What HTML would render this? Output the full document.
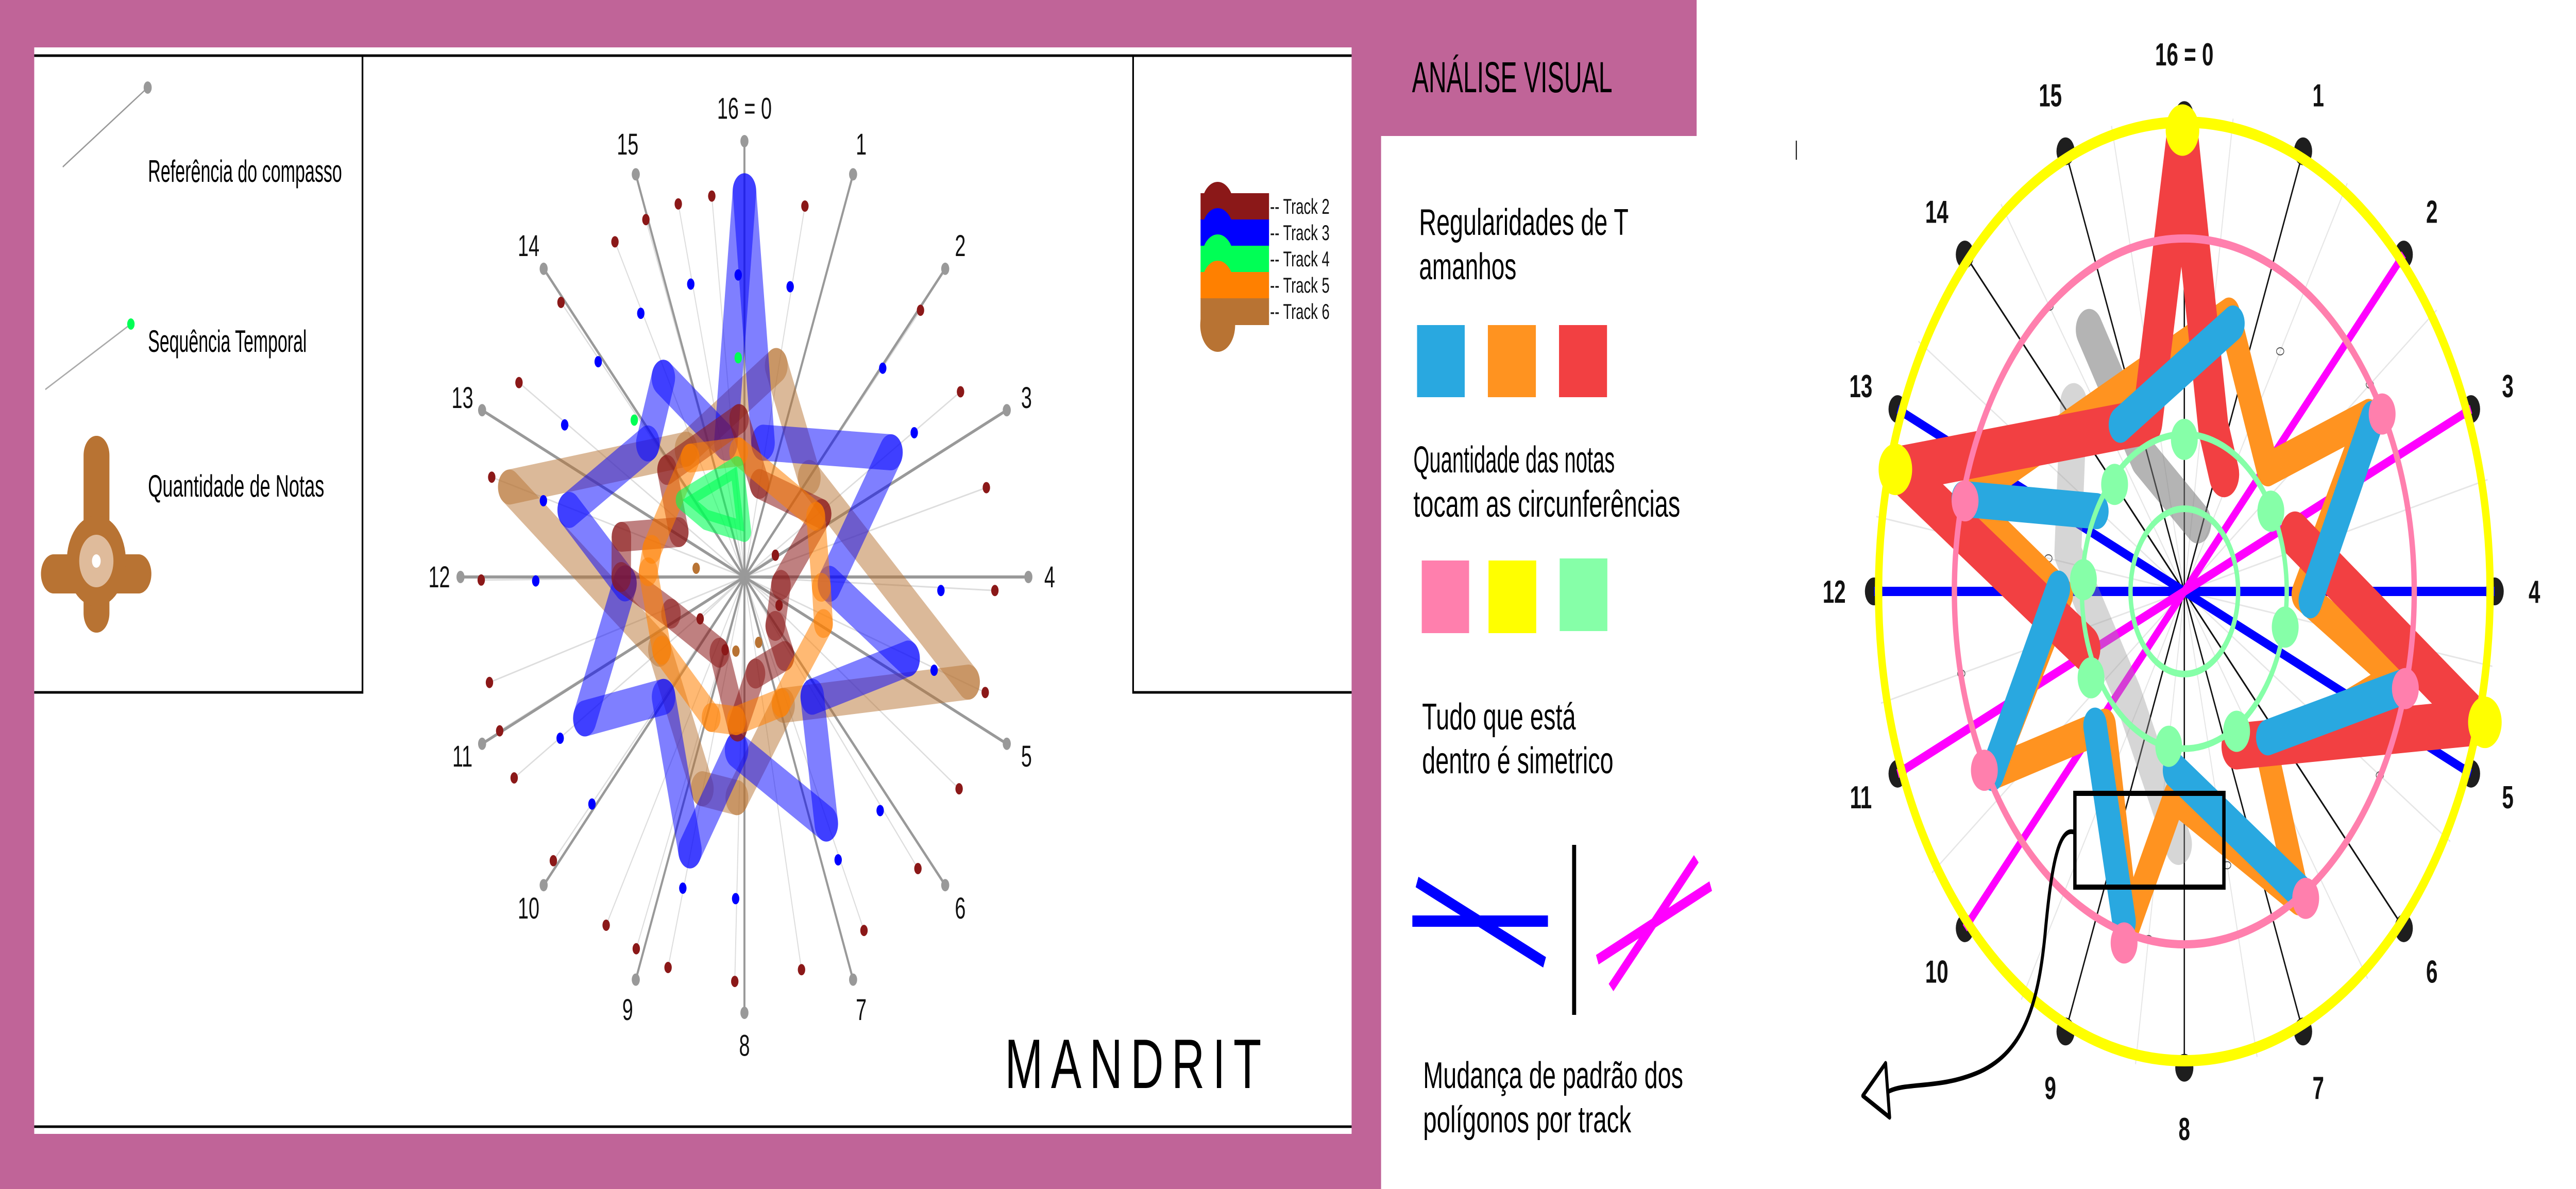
<!DOCTYPE html>
<html><head><meta charset="utf-8"><style>
html,body{margin:0;padding:0;background:#fff;overflow:hidden;width:100%;height:100%;}
svg{display:block;position:absolute;left:0;top:0;width:100vw;height:100vh;}
text{font-family:"Liberation Sans",sans-serif;}
</style></head><body>
<svg id="s" xmlns="http://www.w3.org/2000/svg" viewBox="0 0 7675 2308" preserveAspectRatio="none">
<rect x="0" y="0" width="7675" height="2308" fill="#fff"/>
<rect x="0" y="0" width="4115" height="2308" fill="#c06498"/>
<rect x="102" y="92" width="3925" height="2109" fill="#fff"/>
<rect x="4115" y="0" width="3560" height="2308" fill="#fff"/>
<rect x="4100" y="0" width="955" height="264" fill="#c06498"/>
<line x1="102" y1="108" x2="4027" y2="108" stroke="#000" stroke-width="5"/>
<line x1="102" y1="2187" x2="4027" y2="2187" stroke="#000" stroke-width="5"/>
<polyline points="102,1344 1080,1344 1080,108" fill="none" stroke="#000" stroke-width="5"/>
<polyline points="4027,1344 3376,1344 3376,108" fill="none" stroke="#000" stroke-width="5"/>

<g>
<line x1="187" y1="324" x2="440" y2="170" stroke="#999" stroke-width="3"/>
<circle cx="440" cy="170" r="12" fill="#999"/>
<text x="441" y="353" font-size="60" textLength="578" lengthAdjust="spacingAndGlyphs">Referência do compasso</text>
<line x1="135" y1="756" x2="390" y2="629" stroke="#aaa" stroke-width="3"/>
<circle cx="390" cy="629" r="11" fill="#00ff55"/>
<text x="441" y="683" font-size="60" textLength="473" lengthAdjust="spacingAndGlyphs">Sequência Temporal</text>
<rect x="249" y="846" width="77" height="382" rx="38" fill="#b87333"/>
<rect x="122" y="1076" width="329" height="76" rx="38" fill="#b87333"/>
<circle cx="287" cy="1089" r="88" fill="#b87333"/>
<ellipse cx="287" cy="1089" rx="51" ry="51" fill="#dfbb9b"/>
<circle cx="287" cy="1089" r="13" fill="#fff"/>
<text x="441" y="964" font-size="60" textLength="525" lengthAdjust="spacingAndGlyphs">Quantidade de Notas</text>
</g>

<g id="tracklegend"></g>
<g id="chart1"></g>
<text x="2994" y="2112" font-size="136" textLength="764" lengthAdjust="spacing">MANDRIT</text>

<g>
<text x="4207" y="179" font-size="84" textLength="597" lengthAdjust="spacingAndGlyphs">ANÁLISE VISUAL</text>
<text x="4228" y="456" font-size="72" textLength="624" lengthAdjust="spacingAndGlyphs">Regularidades de T</text>
<text x="4228" y="542" font-size="72" textLength="290" lengthAdjust="spacingAndGlyphs">amanhos</text>
<rect x="4222" y="631" width="142" height="140" fill="#29a8e0"/>
<rect x="4433" y="631" width="143" height="140" fill="#ff9320"/>
<rect x="4645" y="631" width="143" height="140" fill="#f24042"/>
<text x="4211" y="917" font-size="72" textLength="600" lengthAdjust="spacingAndGlyphs">Quantidade das notas</text>
<text x="4211" y="1003" font-size="72" textLength="795" lengthAdjust="spacingAndGlyphs">tocam as circunferências</text>
<rect x="4236" y="1088" width="141" height="141" fill="#ff7fad"/>
<rect x="4435" y="1088" width="142" height="141" fill="#ffff00"/>
<rect x="4647" y="1084" width="142" height="141" fill="#86ffa8"/>
<text x="4237" y="1416" font-size="72" textLength="458" lengthAdjust="spacingAndGlyphs">Tudo que está</text>
<text x="4237" y="1501" font-size="72" textLength="570" lengthAdjust="spacingAndGlyphs">dentro é simetrico</text>
<line x1="4208" y1="1788" x2="4612" y2="1788" stroke="#0000ff" stroke-width="22"/>
<line x1="4222" y1="1712" x2="4602" y2="1868" stroke="#0000ff" stroke-width="22"/>
<line x1="4690" y1="1640" x2="4690" y2="1970" stroke="#000" stroke-width="12"/>
<line x1="4759" y1="1863" x2="5097" y2="1720" stroke="#ff00ff" stroke-width="20"/>
<line x1="4800" y1="1917" x2="5054" y2="1667" stroke="#ff00ff" stroke-width="20"/>
<text x="4240" y="2112" font-size="72" textLength="775" lengthAdjust="spacingAndGlyphs">Mudança de padrão dos</text>
<text x="4240" y="2198" font-size="72" textLength="620" lengthAdjust="spacingAndGlyphs">polígonos por track</text>
<line x1="5352" y1="273" x2="5352" y2="310" stroke="#000" stroke-width="3"/>
</g>
<g id="chart2"></g>
</svg>
<script>
// ---------- Chart 1 data (polar: angle deg clockwise from top, radius fraction) ----------
var spokeLabels = ["16 = 0","1","2","3","4","5","6","7","8","9","10","11","12","13","14","15"];
var track3Ang = [0,12,61,93,108,139,153,184,197,226,240,268,284,312,328,348];
var track3Rad = [0.885,0.315,0.59,0.30,0.606,0.364,0.635,0.398,0.656,0.396,0.649,0.421,0.636,0.458,0.539,0.315];
var track6Ang = [13,45,107,155,183,197,241,284,325];
var track6Rad = [0.498,0.323,0.825,0.325,0.507,0.508,0.342,0.853,0.358];
var track5Ang = [356,61,95,111,156,185,200,240,272,281,325];
var track5Rad = [0.288,0.287,0.272,0.298,0.316,0.331,0.343,0.336,0.339,0.332,0.333];
var track2Ang = [357,14,62,98,136,142,170,184,207,252,270,282,294,312];
var track2Rad = [0.363,0.22,0.308,0.13,0.156,0.23,0.225,0.344,0.195,0.272,0.434,0.443,0.253,0.367];
var track4Ang = [309,354,0,314];
var track4Rad = [0.281,0.255,0.104,0.189];
// note dots (cartesian, unit = spoke radius)
var redDotX = [-0.115,-0.233,-0.347,-0.456,0.213,0.620,0.761,0.852,0.882,0.848,0.756,0.611,0.421,0.201,-0.034,-0.269,-0.381,-0.487,-0.673,-0.811,-0.862,-0.898,-0.927,-0.890,-0.794,-0.646,0.109,0.122,-0.156,-0.068];
var redDotY = [-0.874,-0.856,-0.820,-0.769,-0.851,-0.612,-0.425,-0.205,0.031,0.265,0.486,0.669,0.811,0.901,0.928,0.896,0.853,0.799,0.651,0.461,0.353,0.242,0.007,-0.229,-0.446,-0.630,-0.050,0.065,0.096,0.167];
var blueDotX = [-0.022,-0.189,-0.365,-0.515,-0.633,-0.708,-0.735,-0.649,-0.537,-0.217,-0.031,0.330,0.478,0.668,0.692,0.598,0.487,0.161];
var blueDotY = [-0.693,-0.672,-0.605,-0.494,-0.349,-0.175,0.009,0.370,0.521,0.714,0.738,0.649,0.536,0.214,0.031,-0.331,-0.479,-0.666];
var greenDotX = [-0.388,-0.022];
var greenDotY = [-0.360,-0.503];
var brownDotX = [-0.17,-0.03,0.05];
var brownDotY = [-0.02,0.17,0.15];
var trackNames = ["Track 2","Track 3","Track 4","Track 5","Track 6"];
var trackColors = ["#8b1818","#0000ff","#00ff55","#ff8000","#b87333"];

// ---------- Chart 2 data (cartesian, unit = outer circle radius) ----------
var redArmAX = [-0.324,-0.933,-0.121,-0.006,0.095,0.13];
var redArmAY = [0.121,-0.260,-0.362,-0.983,-0.349,-0.25];
var redArmBX = [0.362,0.958,0.171];
var redArmBY = [-0.121,0.279,0.330];
var orangeStarX = [0.146,0.273,0.603,0.387,0.692,0.273,0.374,-0.032,-0.184,-0.260,-0.628,-0.400,-0.717];
var orangeStarY = [-0.590,-0.260,-0.374,0.006,0.184,0.349,0.654,0.438,0.717,0.286,0.387,0.006,-0.197];
var blueSegX1 = [-0.209,-0.723,-0.628,-0.197,0.400,0.717,0.412];
var blueSegY1 = [-0.355,-0.197,0.387,0.704,0.654,0.203,0.019];
var blueSegX2 = [0.159,-0.286,-0.412,-0.292,-0.032,0.273,0.615];
var blueSegY2 = [-0.571,-0.171,-0.006,0.286,0.381,0.311,-0.368];
var grayPathX = [-0.311,-0.133,0.044];
var grayPathY = [-0.558,-0.286,-0.146];
var grayPath2X = [-0.362,-0.381,-0.184,-0.019];
var grayPath2Y = [-0.400,-0.082,0.222,0.539];
var greenNoteX = [0,-0.228,-0.330,-0.305,-0.051,0.171,0.330,0.283];
var greenNoteY = [-0.324,-0.228,-0.025,0.184,0.330,0.298,0.076,-0.171];
var pinkNoteX = [0.647,-0.717,-0.654,-0.197,0.397,0.723];
var pinkNoteY = [-0.378,-0.193,0.381,0.749,0.654,0.207];
var yellowNoteX = [-0.006,-0.945,0.983];
var yellowNoteY = [-0.983,-0.260,0.279];
var circleRadii = [1.0,0.752,0.335,0.176];
var blueLineSteps = [12,13];
var magentaLineSteps = [10,11];

var NS = "http://www.w3.org/2000/svg";
function mk(tag, attrs, parent){var e=document.createElementNS(NS,tag);for(var k in attrs)e.setAttribute(k,attrs[k]);parent.appendChild(e);return e;}

// ---------- chart 1 ----------
var g1 = document.getElementById('chart1');
var C1X=2218, C1Y=1120, R1=846;
function p1(a,r){var t=a*Math.PI/180;return [C1X+R1*r*Math.sin(t), C1Y-R1*r*Math.cos(t)];}
function c1(x,y){return [C1X+R1*x, C1Y+R1*y];}
for (var i=0;i<redDotX.length;i++){var q=c1(redDotX[i],redDotY[i]);
 var l=mk('line',{x1:C1X,y1:C1Y,x2:q[0],y2:q[1],stroke:'#ddd','stroke-width':3},g1);
 
 }
for (var i=0;i<16;i++){var q=p1(i*22.5,1);
 var l=mk('line',{x1:C1X,y1:C1Y,x2:q[0],y2:q[1],stroke:'#999','stroke-width':6},g1);
 
 
 var d=mk('circle',{cx:q[0],cy:q[1],r:12,fill:'#999'},g1);
 
 
 var lp=p1(i*22.5,1.075);
 var t=mk('text',{x:lp[0],y:lp[1]+20,'font-size':58,'text-anchor':'middle',fill:'#111'},g1);
 t.textContent=spokeLabels[i];
 
 }
function drawTrack(angs,rads,color,op,w,name){
 for(var i=0;i<angs.length;i++){var a=p1(angs[i],rads[i]);var b=p1(angs[(i+1)%angs.length],rads[(i+1)%angs.length]);
  var l=mk('line',{x1:a[0],y1:a[1],x2:b[0],y2:b[1],stroke:color,'stroke-opacity':op,'stroke-width':w,'stroke-linecap':'round'},g1);
  
  }}
drawTrack(track6Ang,track6Rad,'#b87333',0.5,68,'track6-segment');
drawTrack(track3Ang,track3Rad,'#0000ff',0.5,70,'track3-segment');
drawTrack(track2Ang,track2Rad,'#8b1818',0.55,58,'track2-segment');
drawTrack(track5Ang,track5Rad,'#ff8000',0.55,56,'track5-segment');
(function(){var pts=[];for(var i=0;i<track4Ang.length;i++){pts.push(p1(track4Ang[i],track4Rad[i]).join(','));}
 var pg=mk('polygon',{points:pts.join(' '),fill:'#00ff55','fill-opacity':0.6,stroke:'#00ff55','stroke-opacity':0.6,'stroke-width':40,'stroke-linejoin':'round'},g1);
 
 })();
function dots(xs,ys,color,r,name){for(var i=0;i<xs.length;i++){var q=c1(xs[i],ys[i]);
 var d=mk('circle',{cx:q[0],cy:q[1],r:r,fill:color},g1);
 
 }}
dots(redDotX,redDotY,'#8b1818',11,'track2-note');
dots(blueDotX,blueDotY,'#0000ff',11,'track3-note');
dots(greenDotX,greenDotY,'#00ff55',11,'track4-note');
dots(brownDotX,brownDotY,'#b87333',11,'track6-note');

// track legend
var tl=document.getElementById('tracklegend');
for(var i=0;i<trackNames.length;i++){var y=375+i*51;
 var r=mk('rect',{x:3577,y:y,width:204,height:52,fill:trackColors[i]},tl);
 
 
 var c=mk('circle',{cx:3628,cy:y+26+(i==4?26:0),r:(i==4?52:48),fill:trackColors[i]},tl);
 
 
 var t=mk('text',{x:3784,y:y+40,'font-size':42,fill:'#111'},tl);
 t.textContent='-- '+trackNames[i];
 
 }

// ---------- chart 2 ----------
var g2=document.getElementById('chart2');
var C2X=6508,C2Y=1148,R2=911;
function c2(x,y){return [C2X+R2*x,C2Y+R2*y];}
function p2(a,r){var t=a*Math.PI/180;return [C2X+R2*r*Math.sin(t),C2Y-R2*r*Math.cos(t)];}
for(var i=0;i<16;i++){var a=i*22.5+9;var q=p2(a,1.02);
 var l=mk('line',{x1:C2X,y1:C2Y,x2:q[0],y2:q[1],stroke:'#e6e6e6','stroke-width':3},g2);
 
 
 var m=p2(a,0.45+0.3*((i%3)/2));
 var e=mk('ellipse',{cx:m[0],cy:m[1],rx:11,ry:7,fill:'none',stroke:'#555','stroke-width':2},g2);
 
 }
for(var i=0;i<16;i++){var q=p2(i*22.5,1.015);
 var l=mk('line',{x1:C2X,y1:C2Y,x2:q[0],y2:q[1],stroke:'#111','stroke-width':4},g2);
 
 
 var d=mk('circle',{cx:q[0],cy:q[1],r:27,fill:'#1e1e1e'},g2);
 
 
 var lp=p2(i*22.5,1.145);
 var t=mk('text',{x:lp[0],y:lp[1]+22,'font-size':62,'font-weight':'bold','text-anchor':'middle',fill:'#111'},g2);
 t.textContent=spokeLabels[i];
 
 }
function fullLine(step,color,name){var a=p2(step*22.5,1.015),b=p2(step*22.5+180,1.015);
 var l=mk('line',{x1:a[0],y1:a[1],x2:b[0],y2:b[1],stroke:color,'stroke-width':18},g2);
 
 }
for(var i=0;i<blueLineSteps.length;i++)fullLine(blueLineSteps[i],'#0000ff','blue-axis-line');
for(var i=0;i<magentaLineSteps.length;i++)fullLine(magentaLineSteps[i],'#ff00ff','magenta-axis-line');
function poly(xs,ys,color,op,w,name,closed){var pts=[];for(var i=0;i<xs.length;i++)pts.push(c2(xs[i],ys[i]).join(','));
 var p=mk(closed?'polygon':'polyline',{points:pts.join(' '),fill:'none',stroke:color,'stroke-opacity':op,'stroke-width':w,'stroke-linejoin':'round','stroke-linecap':'round'},g2);
 
 }
poly(grayPathX,grayPathY,'#777',0.55,80,'gray-track-path',false);
poly(grayPath2X,grayPath2Y,'#999',0.4,80,'gray-track-path',false);
poly(orangeStarX,orangeStarY,'#ff9320',1,66,'orange-star',true);
poly(redArmAX,redArmAY,'#f24042',1,90,'red-star-arm',false);
poly(redArmBX,redArmBY,'#f24042',1,90,'red-star-arm',false);
for(var i=0;i<blueSegX1.length;i++){var a=c2(blueSegX1[i],blueSegY1[i]),b=c2(blueSegX2[i],blueSegY2[i]);
 var l=mk('line',{x1:a[0],y1:a[1],x2:b[0],y2:b[1],stroke:'#29a8e0','stroke-width':70,'stroke-linecap':'round'},g2);
 
 }
var ringColors=['#ffff00','#ff7fad','#86ffa8','#86ffa8'];
var ringWidths=[22,16,13,13];
for(var i=0;i<circleRadii.length;i++){
 var c=mk('circle',{cx:C2X,cy:C2Y,r:R2*circleRadii[i],fill:'none',stroke:ringColors[i],'stroke-width':ringWidths[i]},g2);
 
 }
function notes(xs,ys,color,r,name){for(var i=0;i<xs.length;i++){var q=c2(xs[i],ys[i]);
 var d=mk('circle',{cx:q[0],cy:q[1],r:r,fill:color},g2);
 
 }}
notes(greenNoteX,greenNoteY,'#86ffa8',40,'green-touch-note');
notes(pinkNoteX,pinkNoteY,'#ff7fad',40,'pink-touch-note');
notes(yellowNoteX,yellowNoteY,'#ffff00',50,'yellow-touch-note');
var rc=mk('rect',{x:6182,y:1540,width:444,height:182,fill:'none',stroke:'#000','stroke-width':10},g2);


var ar=mk('path',{d:'M6182,1616 C6130,1600 6110,1700 6095,1800 C6075,1950 6030,2040 5900,2080 C5780,2115 5680,2100 5626,2119',fill:'none',stroke:'#000','stroke-width':9},g2);


var ah=mk('polygon',{points:'5618,2064 5550,2127 5630,2169',fill:'#fff',stroke:'#000','stroke-width':9,'stroke-linejoin':'round'},g2);


</script>
</body></html>
